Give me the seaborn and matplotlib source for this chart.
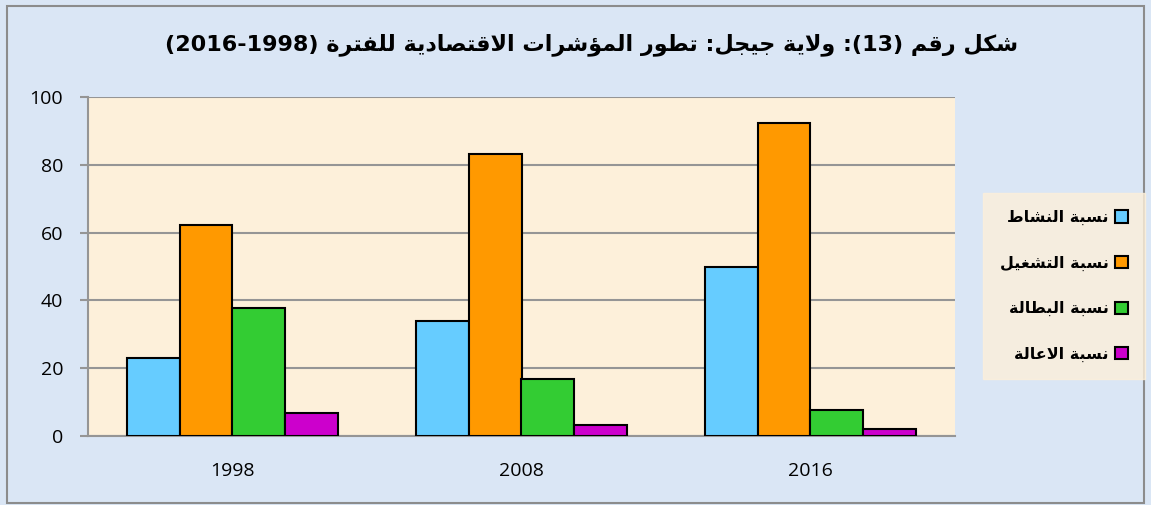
import re
import pandas as pd
import seaborn as sns
import matplotlib.pyplot as plt
from matplotlib.patches import Rectangle

years = ["1998", "2008", "2016"]
series = ["نسبة النشاط", "نسبة التشغيل", "نسبة البطالة", "نسبة الاعالة"]
activity = [23.1, 33.9, 49.9]
employment = [62.3, 83.2, 92.4]
unemployment = [37.8, 16.9, 7.7]
dependency = [6.9, 3.3, 2.0]
colors = ["#66ccff", "#ff9900", "#33cc33", "#cc00cc"]
yticks = [0, 20, 40, 60, 80, 100]
title = "شكل رقم (13): ولاية جيجل: تطور المؤشرات الاقتصادية للفترة (1998-2016)"

# Arabic presentation forms (isolated, final, initial, medial)
FORMS = {
    "ا": (0xFE8D, 0xFE8E, None, None), "ب": (0xFE8F, 0xFE90, 0xFE91, 0xFE92),
    "ة": (0xFE93, 0xFE94, None, None), "ت": (0xFE95, 0xFE96, 0xFE97, 0xFE98),
    "ج": (0xFE9D, 0xFE9E, 0xFE9F, 0xFEA0), "د": (0xFEA9, 0xFEAA, None, None),
    "ر": (0xFEAD, 0xFEAE, None, None), "س": (0xFEB1, 0xFEB2, 0xFEB3, 0xFEB4),
    "ش": (0xFEB5, 0xFEB6, 0xFEB7, 0xFEB8), "ص": (0xFEB9, 0xFEBA, 0xFEBB, 0xFEBC),
    "ط": (0xFEC1, 0xFEC2, 0xFEC3, 0xFEC4), "ع": (0xFEC9, 0xFECA, 0xFECB, 0xFECC),
    "غ": (0xFECD, 0xFECE, 0xFECF, 0xFED0), "ف": (0xFED1, 0xFED2, 0xFED3, 0xFED4),
    "ق": (0xFED5, 0xFED6, 0xFED7, 0xFED8), "ك": (0xFED9, 0xFEDA, 0xFEDB, 0xFEDC),
    "ل": (0xFEDD, 0xFEDE, 0xFEDF, 0xFEE0), "م": (0xFEE1, 0xFEE2, 0xFEE3, 0xFEE4),
    "ن": (0xFEE5, 0xFEE6, 0xFEE7, 0xFEE8), "و": (0xFEED, 0xFEEE, None, None),
    "ي": (0xFEF1, 0xFEF2, 0xFEF3, 0xFEF4), "ؤ": (0xFE85, 0xFE86, None, None),
}


def joins_next(c):
    return c in FORMS and FORMS[c][2] is not None


def shape(text):
    out = []
    i = 0
    n = len(text)
    while i < n:
        c = text[i]
        if c not in FORMS:
            out.append(c)
            i += 1
            continue
        prev_j = i > 0 and joins_next(text[i - 1])
        if c == "ل" and i + 1 < n and text[i + 1] == "ا":
            out.append(chr(0xFEFC if prev_j else 0xFEFB))
            i += 2
            continue
        next_j = joins_next(c) and i + 1 < n and text[i + 1] in FORMS
        iso, fin, ini, med = FORMS[c]
        if prev_j and next_j:
            f = med
        elif prev_j:
            f = fin
        elif next_j:
            f = ini
        else:
            f = iso
        out.append(chr(f))
        i += 1
    # simple RTL visual order
    vis = "".join(out)[::-1]
    vis = vis.translate(str.maketrans("()", ")("))
    vis = re.sub(r"\d+", lambda m: m.group(0)[::-1], vis)
    return vis


rows = []
for name, vals in zip(series, [activity, employment, unemployment, dependency]):
    for y, v in zip(years, vals):
        rows.append({"year": y, "series": shape(name), "value": v})
df = pd.DataFrame(rows)

sns.set_style("white")
plt.rcParams["font.family"] = ["DejaVu Sans"]
plt.rcParams["text.color"] = "black"

fig = plt.figure(figsize=(11.51, 5.05), dpi=100)
fig.patch.set_facecolor("#dae6f5")
ax = fig.add_axes([88 / 1151, 1 - 436 / 505, 867 / 1151, 339 / 505])
ax.set_facecolor("#fdf0da")

sns.barplot(data=df, x="year", y="value", hue="series", palette=colors,
            width=0.73, gap=0, edgecolor="black", linewidth=1.5,
            saturation=1, ax=ax, zorder=3)

ax.set_ylim(0, 100)
ax.set_xlim(-0.5, 2.5)
ax.set_yticks(yticks)
ax.set_yticklabels([str(t) for t in yticks], fontsize=14, family=["Open Sans"], color="black")
ax.set_xticklabels(years, fontsize=14, family=["Open Sans"], color="black")
ax.set_xlabel("")
ax.set_ylabel("")
ax.yaxis.grid(True, color="#959595", linewidth=1.5, zorder=0)
ax.set_axisbelow(True)
for s in ["top", "right"]:
    ax.spines[s].set_visible(False)
for s in ["left", "bottom"]:
    ax.spines[s].set_color("#959595")
    ax.spines[s].set_linewidth(1.5)
ax.tick_params(axis="y", length=6, width=1.5, color="#959595", pad=12, direction="out", left=True)
ax.tick_params(axis="x", length=0, pad=19)

handles, labels = ax.get_legend_handles_labels()
ax.get_legend().remove()
leg = fig.legend(handles, labels, loc="center left",
                 bbox_to_anchor=(983 / 1151, 1 - 286 / 505),
                 markerfirst=False, frameon=True, fancybox=False,
                 prop={"weight": "bold", "size": 11.5},
                 labelspacing=1.9, handlelength=0.8, handleheight=0.8,
                 handletextpad=0.4, borderpad=1.05, borderaxespad=0)
leg.get_frame().set_facecolor("#fdf0da")
leg.get_frame().set_edgecolor("#fdf0da")
for t in leg.get_texts():
    t.set_color("black")

fig.text(592 / 1151, 1 - 45 / 505, shape(title), ha="center", va="center",
         fontsize=16, fontweight="bold", color="black")

fig.patches.append(Rectangle((7 / 1151, 2 / 505), 1137 / 1151, 497 / 505,
                             transform=fig.transFigure, fill=False,
                             edgecolor="#8c8c8c", linewidth=1.5))

fig.savefig("out.png", dpi=100, facecolor=fig.get_facecolor())
